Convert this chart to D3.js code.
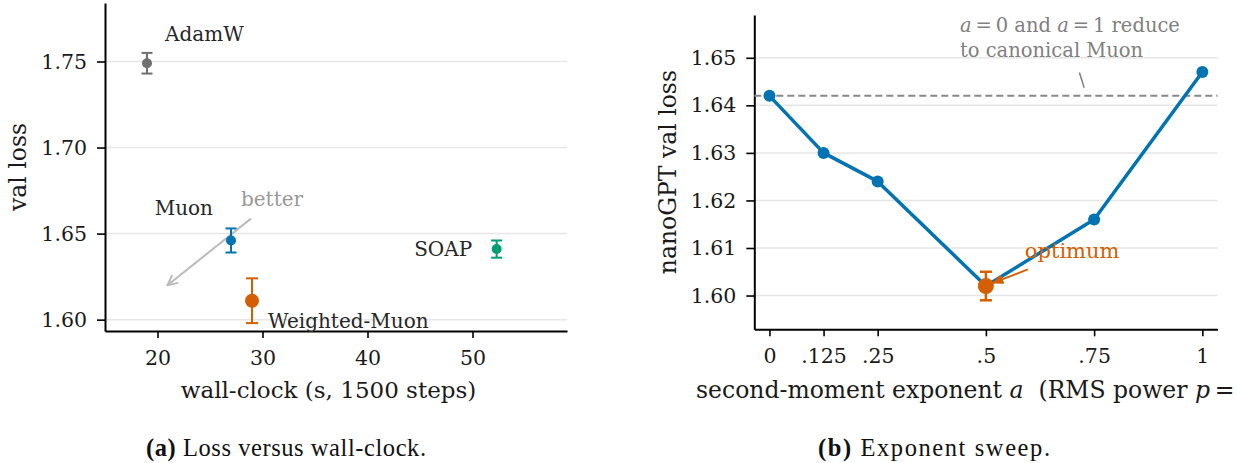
<!DOCTYPE html>
<html>
<head>
<meta charset="utf-8">
<script src="https://cdn.jsdelivr.net/npm/d3@7"></script>
<style>
  html, body { margin: 0; padding: 0; background: #fff; }
  svg { display: block; }
  text { font-family: "DejaVu Serif", serif; }
</style>
</head>
<body>
<div id="chart"></div>
<script>
// ---------- data ----------
const optimizers = ["AdamW", "Muon", "SOAP", "Weighted-Muon"];
const wallClock = [19, 27, 52.3, 29];
const valLoss = [1.749, 1.646, 1.641, 1.611];
const valErr = [0.006, 0.007, 0.005, 0.013];
const optColors = ["#707070", "#0173b2", "#029e73", "#d55e00"];
const leftXTicks = [20, 30, 40, 50];
const leftYTicks = [1.60, 1.65, 1.70, 1.75];

const exponents = [0, 0.125, 0.25, 0.5, 0.75, 1];
const sweepLoss = [1.642, 1.630, 1.624, 1.602, 1.616, 1.647];
const expTickLabels = ["0", ".125", ".25", ".5", ".75", "1"];
const rightYTicks = [1.60, 1.61, 1.62, 1.63, 1.64, 1.65];
const optimumA = 0.5;
const optimumLoss = 1.602;
const optimumErr = 0.003;
const canonicalMuon = 1.642;

// ---------- layout ----------
const W = 1237, H = 463;
const svg = d3.select("#chart").append("svg").attr("width", W).attr("height", H);
svg.append("rect").attr("width", W).attr("height", H).attr("fill", "#fff");

const tickFont = 20.5, labelFont = 23.5, annFont = 20;
const gridColor = "#e6e6e6";
const textColor = "#1a1a1a";

function styleAxis(g) {
  g.select(".domain").attr("stroke", "#000").attr("stroke-width", 2);
  g.selectAll(".tick line").attr("stroke", "#000").attr("stroke-width", 1.6);
  g.selectAll(".tick text").attr("font-family", "DejaVu Serif").attr("font-size", tickFont).attr("fill", textColor);
}

// ===== Panel (a) =====
const xL = d3.scaleLinear().domain([15, 59]).range([105, 567]);
const yL = d3.scaleLinear().domain([1.5934, 1.784]).range([331, 3]);
const gA = svg.append("g");

gA.append("g").selectAll("line").data(leftYTicks).join("line")
  .attr("x1", xL.range()[0]).attr("x2", xL.range()[1])
  .attr("y1", d => yL(d)).attr("y2", d => yL(d))
  .attr("stroke", gridColor).attr("stroke-width", 1.5);

gA.append("g").attr("transform", `translate(0,${yL.range()[0]})`)
  .call(d3.axisBottom(xL).tickValues(leftXTicks).tickFormat(d3.format("d")).tickSize(7).tickSizeOuter(0).tickPadding(12))
  .call(styleAxis);
gA.append("g").attr("transform", `translate(${xL.range()[0]},0)`)
  .call(d3.axisLeft(yL).tickValues(leftYTicks).tickFormat(d3.format(".2f")).tickSize(8).tickSizeOuter(0).tickPadding(10))
  .call(styleAxis);

// axis labels
gA.append("text").attr("x", 328.5).attr("y", 398).attr("text-anchor", "middle")
  .attr("font-size", 23).attr("fill", textColor).text("wall-clock (s, 1500 steps)");
gA.append("text").attr("transform", `translate(26,${(yL.range()[0] + yL.range()[1]) / 2}) rotate(-90)`)
  .attr("text-anchor", "middle").attr("font-size", labelFont).attr("fill", textColor).text("val loss");

// "better" arrow
const betterFrom = [28.9, 1.6587], betterTo = [20.95, 1.620];
const defs = svg.append("defs");
defs.append("marker").attr("id", "openHead").attr("viewBox", "0 0 12 12").attr("refX", 11).attr("refY", 6)
  .attr("markerWidth", 12).attr("markerHeight", 12).attr("markerUnits", "userSpaceOnUse").attr("orient", "auto")
  .append("path").attr("d", "M1,1 L11,6 L1,11").attr("fill", "none").attr("stroke", "#bbbbbb").attr("stroke-width", 2);
defs.append("marker").attr("id", "fillHead").attr("viewBox", "0 0 12 10").attr("refX", 11).attr("refY", 5)
  .attr("markerWidth", 12).attr("markerHeight", 10).attr("markerUnits", "userSpaceOnUse").attr("orient", "auto")
  .append("path").attr("d", "M0,0 L12,5 L0,10 Z").attr("fill", "#d55e00");

gA.append("line").attr("x1", xL(betterFrom[0])).attr("y1", yL(betterFrom[1]))
  .attr("x2", xL(betterTo[0])).attr("y2", yL(betterTo[1]))
  .attr("stroke", "#bbbbbb").attr("stroke-width", 2).attr("marker-end", "url(#openHead)");
gA.append("text").attr("x", xL(27.95)).attr("y", yL(1.6659)).attr("font-size", annFont)
  .attr("fill", "#999999").text("better");

// error bars and points
const pts = optimizers.map((n, i) => ({ name: n, x: wallClock[i], y: valLoss[i], e: valErr[i], c: optColors[i],
  r: n === "Weighted-Muon" ? 7 : 5, cap: n === "Weighted-Muon" ? 6 : 5.5 }));
const labelOffsets = { "AdamW": [18, -22, "start"], "Muon": [-18, -25.5, "end"], "SOAP": [-24.5, 7, "end"], "Weighted-Muon": [16, 27.5, "start"] };

const pg = gA.append("g").selectAll("g").data(pts).join("g");
pg.append("line").attr("x1", d => xL(d.x)).attr("x2", d => xL(d.x))
  .attr("y1", d => yL(d.y - d.e)).attr("y2", d => yL(d.y + d.e)).attr("stroke", d => d.c).attr("stroke-width", 2);
pg.append("line").attr("x1", d => xL(d.x) - d.cap).attr("x2", d => xL(d.x) + d.cap)
  .attr("y1", d => yL(d.y - d.e)).attr("y2", d => yL(d.y - d.e)).attr("stroke", d => d.c).attr("stroke-width", 2);
pg.append("line").attr("x1", d => xL(d.x) - d.cap).attr("x2", d => xL(d.x) + d.cap)
  .attr("y1", d => yL(d.y + d.e)).attr("y2", d => yL(d.y + d.e)).attr("stroke", d => d.c).attr("stroke-width", 2);
pg.append("circle").attr("cx", d => xL(d.x)).attr("cy", d => yL(d.y)).attr("r", d => d.r).attr("fill", d => d.c);
pg.append("text").attr("x", d => xL(d.x) + labelOffsets[d.name][0]).attr("y", d => yL(d.y) + labelOffsets[d.name][1])
  .attr("text-anchor", d => labelOffsets[d.name][2]).attr("font-size", annFont).attr("fill", "#262626").text(d => d.name);

// ===== Panel (b) =====
const xR = d3.scaleLinear().domain([-0.035, 1.035]).range([754.3, 1217.5]);
const yR = d3.scaleLinear().domain([1.5929, 1.659]).range([329.3, 15]);
const gB = svg.append("g");

gB.append("g").selectAll("line").data(rightYTicks).join("line")
  .attr("x1", xR.range()[0]).attr("x2", xR.range()[1])
  .attr("y1", d => yR(d)).attr("y2", d => yR(d))
  .attr("stroke", gridColor).attr("stroke-width", 1.5);

gB.append("g").attr("transform", `translate(0,${yR.range()[0]})`)
  .call(d3.axisBottom(xR).tickValues(exponents).tickFormat((d, i) => expTickLabels[i]).tickSize(7).tickSizeOuter(0).tickPadding(12))
  .call(styleAxis);
gB.append("g").attr("transform", `translate(${xR.range()[0]},0)`)
  .call(d3.axisLeft(yR).tickValues(rightYTicks).tickFormat(d3.format(".2f")).tickSize(8).tickSizeOuter(0).tickPadding(10))
  .call(styleAxis);

// axis labels
const xlab = gB.append("text").attr("x", 696).attr("y", 398).attr("font-size", labelFont).attr("fill", textColor)
  .attr("xml:space", "preserve");
xlab.append("tspan").text("second-moment exponent ");
xlab.append("tspan").attr("font-style", "italic").text("a");
xlab.append("tspan").text("  (RMS power ");
xlab.append("tspan").attr("font-style", "italic").text("p");
xlab.append("tspan").text("\u2009=");
gB.append("text").attr("transform", `translate(676,${(yR.range()[0] + yR.range()[1]) / 2}) rotate(-90)`)
  .attr("text-anchor", "middle").attr("font-size", labelFont).attr("fill", textColor).text("nanoGPT val loss");

// canonical Muon dashed line
gB.append("line").attr("x1", xR.range()[0]).attr("x2", xR.range()[1])
  .attr("y1", yR(canonicalMuon)).attr("y2", yR(canonicalMuon))
  .attr("stroke", "#888888").attr("stroke-width", 2).attr("stroke-dasharray", "7,4");

// annotation text
const annX = xR(0.440), annY = yR(1.6555);
const t1 = gB.append("text").attr("x", annX).attr("y", annY).attr("font-size", 19.5).attr("fill", "#808080").attr("xml:space", "preserve");
t1.append("tspan").attr("font-style", "italic").text("a");
t1.append("tspan").text("\u2009=\u20090 and ");
t1.append("tspan").attr("font-style", "italic").text("a");
t1.append("tspan").text("\u2009=\u20091 reduce");
gB.append("text").attr("x", annX).attr("y", annY + 25.6).attr("font-size", 19.5).attr("fill", "#808080").text("to canonical Muon");
const connFrom = [0.716, 1.6469], connTo = [0.727, 1.6437];
gB.append("line").attr("x1", xR(connFrom[0])).attr("y1", yR(connFrom[1]))
  .attr("x2", xR(connTo[0])).attr("y2", yR(connTo[1])).attr("stroke", "#808080").attr("stroke-width", 1.5);

// sweep line
const lineGen = d3.line().x((d, i) => xR(exponents[i])).y(d => yR(d));
gB.append("path").datum(sweepLoss).attr("d", lineGen).attr("fill", "none")
  .attr("stroke", "#0173b2").attr("stroke-width", 3.5).attr("stroke-linejoin", "round");
gB.append("g").selectAll("circle").data(sweepLoss).join("circle")
  .attr("cx", (d, i) => xR(exponents[i])).attr("cy", d => yR(d)).attr("r", 6).attr("fill", "#0173b2");

// optimum
const oc = "#d55e00";
const ox = xR(optimumA);
gB.append("line").attr("x1", ox).attr("x2", ox).attr("y1", yR(optimumLoss - optimumErr)).attr("y2", yR(optimumLoss + optimumErr))
  .attr("stroke", oc).attr("stroke-width", 2.5);
[optimumLoss - optimumErr, optimumLoss + optimumErr].forEach(v => {
  gB.append("line").attr("x1", ox - 6).attr("x2", ox + 6).attr("y1", yR(v)).attr("y2", yR(v)).attr("stroke", oc).attr("stroke-width", 2.5);
});
gB.append("circle").attr("cx", ox).attr("cy", yR(optimumLoss)).attr("r", 8).attr("fill", oc);

const optFrom = [0.597, 1.6055], optTo = [0.515, 1.6026];
gB.append("line").attr("x1", xR(optFrom[0])).attr("y1", yR(optFrom[1]))
  .attr("x2", xR(optTo[0])).attr("y2", yR(optTo[1])).attr("stroke", oc).attr("stroke-width", 1.8)
  .attr("marker-end", "url(#fillHead)");
gB.append("text").attr("x", xR(0.59)).attr("y", yR(1.6079)).attr("font-size", 21).attr("fill", oc).text("optimum");

// ===== captions =====
function caption(x, len, tag, rest) {
  const t = svg.append("text").attr("x", x).attr("y", 456).attr("font-family", "Liberation Serif")
    .attr("font-size", 24.5).attr("fill", "#111").attr("xml:space", "preserve")
    .attr("textLength", len).attr("lengthAdjust", "spacing");
  t.append("tspan").attr("font-family", "Liberation Serif").attr("font-weight", "bold").text(tag);
  t.append("tspan").attr("font-family", "Liberation Serif").text(" " + rest);
}
caption(146, 280, "(a)", "Loss versus wall-clock.");
caption(818, 232, "(b)", "Exponent sweep.");
</script>
</body>
</html>
